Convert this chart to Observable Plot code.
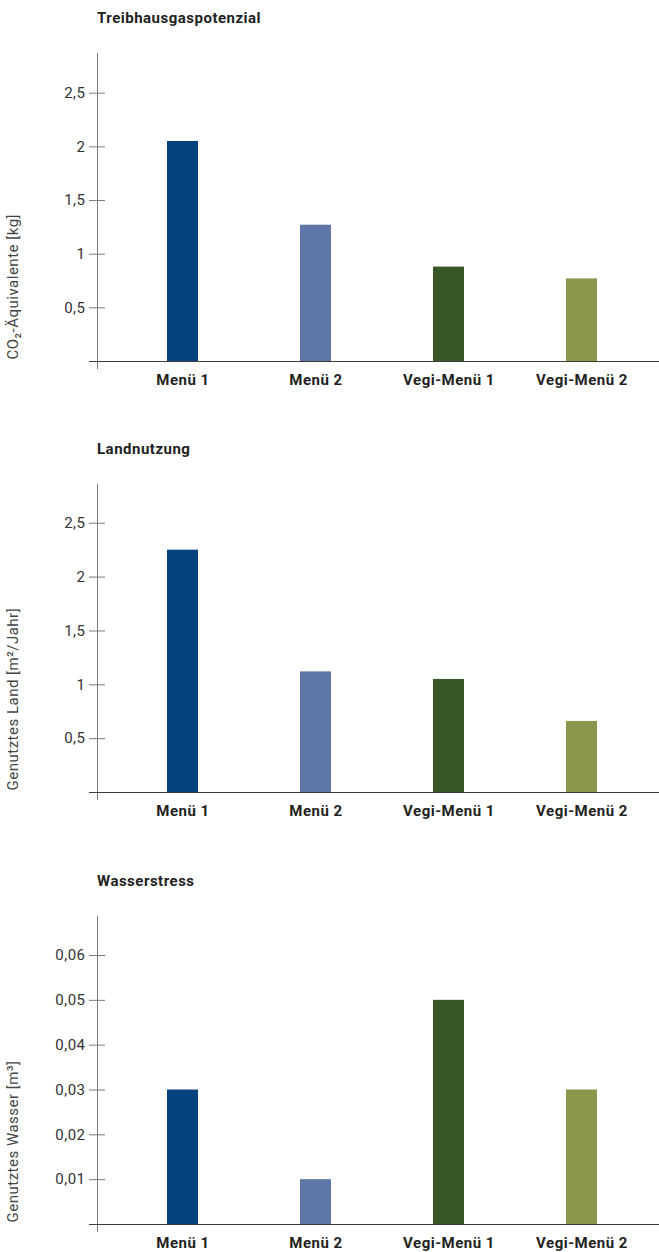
<!DOCTYPE html>
<html lang="de">
<head>
<meta charset="utf-8">
<script src="https://cdn.jsdelivr.net/npm/d3@7"></script>
<script src="https://cdn.jsdelivr.net/npm/@observablehq/plot@0.6"></script>
<style>
  html, body { margin: 0; padding: 0; background: #fff; overflow: hidden; }
  #page { position: relative; width: 659px; height: 1252px; }
  .block { position: absolute; left: 0; width: 659px; }
  .title {
    height: 20px; line-height: 20px; margin-top: 9px; padding-left: 97px;
    font: bold 15px Roboto, sans-serif; letter-spacing: 0.5px; color: #222;
  }
  .block svg { display: block; }
  .block svg text { letter-spacing: 0.5px; }
</style>
</head>
<body>
<div id="page"></div>
<script>
// Menus compared in all three panels
const categories = ["Menü 1", "Menü 2", "Vegi-Menü 1", "Vegi-Menü 2"];
const barColors = ["#03417f", "#5e76a8", "#385627", "#89984c"];

// Panel titles and axis labels
const titles = ["Treibhausgaspotenzial", "Landnutzung", "Wasserstress"];
const yLabels = ["CO₂-Äquivalente [kg]", "Genutztes Land [m²/Jahr]", "Genutztes Wasser [m³]"];

// Values per menu
const ghgValues = [2.05, 1.27, 0.88, 0.77];
const landValues = [2.25, 1.12, 1.05, 0.66];
const waterValues = [0.03, 0.01, 0.05, 0.03];

// Axis extents and tick values
const ghgMax = 2.87;
const landMax = 2.86;
const waterMax = 0.0687;
const ghgTicks = [0.5, 1, 1.5, 2, 2.5];
const landTicks = [0.5, 1, 1.5, 2, 2.5];
const waterTicks = [0.01, 0.02, 0.03, 0.04, 0.05, 0.06];

const panels = [
  {title: titles[0], label: yLabels[0], values: ghgValues, yMax: ghgMax, ticks: ghgTicks},
  {title: titles[1], label: yLabels[1], values: landValues, yMax: landMax, ticks: landTicks},
  {title: titles[2], label: yLabels[2], values: waterValues, yMax: waterMax, ticks: waterTicks}
];

// German decimal comma
const fmt = d => String(d).replace(".", ",");

function panel({label, values, yMax, ticks}) {
  const data = categories.map((menu, i) => ({menu, value: values[i]}));
  return Plot.plot({
    width: 659,
    height: 372,
    marginTop: 24,
    marginBottom: 40,
    marginLeft: 97,
    marginRight: 0,
    style: {fontFamily: "Roboto, sans-serif", background: "white", color: "#333", overflow: "visible"},
    x: {domain: categories, paddingInner: 0.767, paddingOuter: 0.496, align: 0.53, label: null},
    y: {domain: [0, yMax], label: null},
    color: {domain: categories, range: barColors},
    marks: [
      Plot.barY(data, {x: "menu", y: "value", fill: "menu"}),
      Plot.frame({anchor: "left", insetBottom: -7, stroke: "#7a7a7a"}),
      Plot.ruleY([0], {insetLeft: -8, stroke: "#3c3c3c"}),
      Plot.axisY({ticks, tickSize: 16, dx: 8, tickPadding: 4, tickFormat: fmt,
                  fontSize: 15, stroke: "#7a7a7a", fill: "#333", label: null}),
      Plot.axisX({tickSize: 0, tickPadding: 13, fontSize: 15, fontWeight: "bold",
                  fill: "#222", label: null}),
      Plot.text([label], {frameAnchor: "bottom-left", rotate: -90, textAnchor: "start",
                          dx: -80, dy: -2, fontSize: 15, fill: "#444"})
    ]
  });
}

const page = document.getElementById("page");
const blockTops = [0, 431, 863];
panels.forEach((p, i) => {
  const block = document.createElement("div");
  block.className = "block";
  block.style.top = blockTops[i] + "px";
  const t = document.createElement("div");
  t.className = "title";
  t.textContent = p.title;
  block.appendChild(t);
  block.appendChild(panel(p));
  page.appendChild(block);
});
</script>
</body>
</html>
